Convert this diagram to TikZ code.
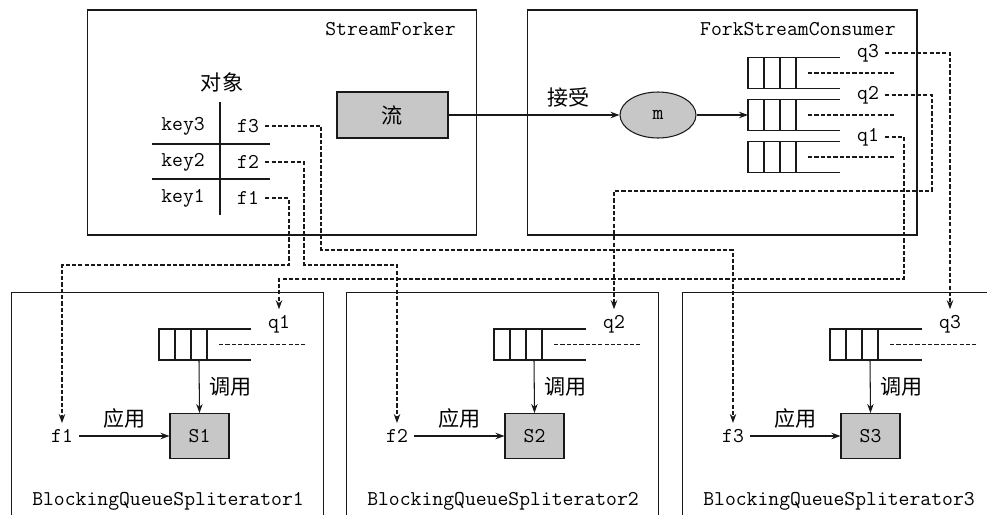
\documentclass[tikz,border=0pt]{standalone}
\usepackage{fontspec}
\usepackage{tikz}
\usetikzlibrary{arrows.meta, positioning, shapes.geometric}
\newfontfamily\zhfont{Noto Sans CJK SC}
\tikzset{
  panel/.style={rectangle,draw=black!90,minimum width=7.8cm,minimum height=4.5cm},
  mono/.style={font=\fontsize{12}{14}\selectfont\ttfamily},
  zh/.style={font=\fontsize{12}{14}\selectfont\zhfont},
  graybox/.style={rectangle,draw=black!90,fill=black!22,mono},
  arrow/.style={-{Stealth[length=1.8mm,width=1.3mm]},draw=black!90},
  dline/.style={dash pattern=on 2.4pt off 1.2pt,draw=black!90},
  dasharrow/.style={dline,-{Stealth[length=1.8mm,width=1.3mm]}},
  pics/queue/.style={code={
    \draw[black!90] (0,-15.5) rectangle (48,15.5);
    \draw[black!90] (16,-15.5) -- (16,15.5) (32,-15.5) -- (32,15.5);
    \draw[black!90] (48,-15.5) -- (92,-15.5) (48,15.5) -- (92,15.5);
    \draw[dline] (60,0) -- (146,0);
    \coordinate (-in) at (0,0);
    \coordinate (-out) at (40,15.5);
    \node[mono] (-lbl) at (120,-20) {#1};
  }}
}
\begin{document}
\begin{tikzpicture}[x=0.02cm,y=-0.02cm,line width=0.6pt]
  \clip (0,0) rectangle (987,514);
  \fill[white] (0,0) rectangle (987,514);

  \node[panel] (sf) at (282,122.5) {};
  \node[mono,anchor=east] (sft) at (462,29) {StreamForker};
  \node[zh] (obj) at (222,82) {对象};
  \node[mono] (k3) at (183,126) {key3};
  \node[mono] (f3) at (248,126) {f3};
  \node[mono] (k2) at (183,162) {key2};
  \node[mono] (f2) at (248,162) {f2};
  \node[mono] (k1) at (183,198) {key1};
  \node[mono] (f1) at (248,198) {f1};
  \draw[black!90] (220,102) -- (220,215);
  \draw[black!90] (152,144) -- (270,144) (152,179) -- (270,179);
  \node[graybox,zh,minimum width=2.22cm,minimum height=0.92cm] (liu) at (392.5,115) {流};

  \node[panel] (fsc) at (722,122.5) {};
  \node[mono,anchor=east] (fsct) at (902,29) {ForkStreamConsumer};
  \node[ellipse,draw=black!90,fill=black!22,mono,minimum width=1.52cm,
    minimum height=0.92cm,inner sep=0pt] (m) at (658,115) {m};
  \pic (fq3) at (748,73) {queue=q3};
  \pic (fq2) at (748,115) {queue=q2};
  \pic (fq1) at (748,157) {queue=q1};
  \draw[arrow] (liu) -- node[zh,above=1pt,pos=0.7] (acc) {接受} (m);
  \draw[arrow] (m) -- (fq2-in);

  \foreach \i/\o in {1/0,2/335,3/671}{
    \node[panel,minimum width=6.24cm,minimum height=5cm,anchor=north west]
      (bqs\i) at (11+\o,292) {};
    \node[mono] (bqst\i) at (168+\o,501) {BlockingQueueSpliterator\i};
    \pic (bq\i) at (159+\o,344.5) {queue=q\i};
    \node[graybox,minimum width=1.18cm,minimum height=0.9cm] (s\i) at (199.5+\o,436) {S\i};
    \node[mono] (bf\i) at (62+\o,436) {f\i};
    \draw[arrow] (bq\i-out) -- node[zh,right=2pt] (call\i) {调用} (s\i.north);
    \draw[arrow] (bf\i) -- node[zh,above=1pt] (apply\i) {应用} (s\i);
  }

  \draw[dasharrow] (f1) -| (289,265) -| (bf1);
  \draw[dasharrow] (f2) -| (304,265) -| (bf2);
  \draw[dasharrow] (f3) -| (321,250) -| (bf3);
  \draw[dasharrow] (fq3-lbl) -| (bq3-lbl);
  \draw[dasharrow] (fq2-lbl) -| (932,191) -| (bq2-lbl);
  \draw[dasharrow] (fq1-lbl) -| (904,279) -| (bq1-lbl);
\end{tikzpicture}
\end{document}
